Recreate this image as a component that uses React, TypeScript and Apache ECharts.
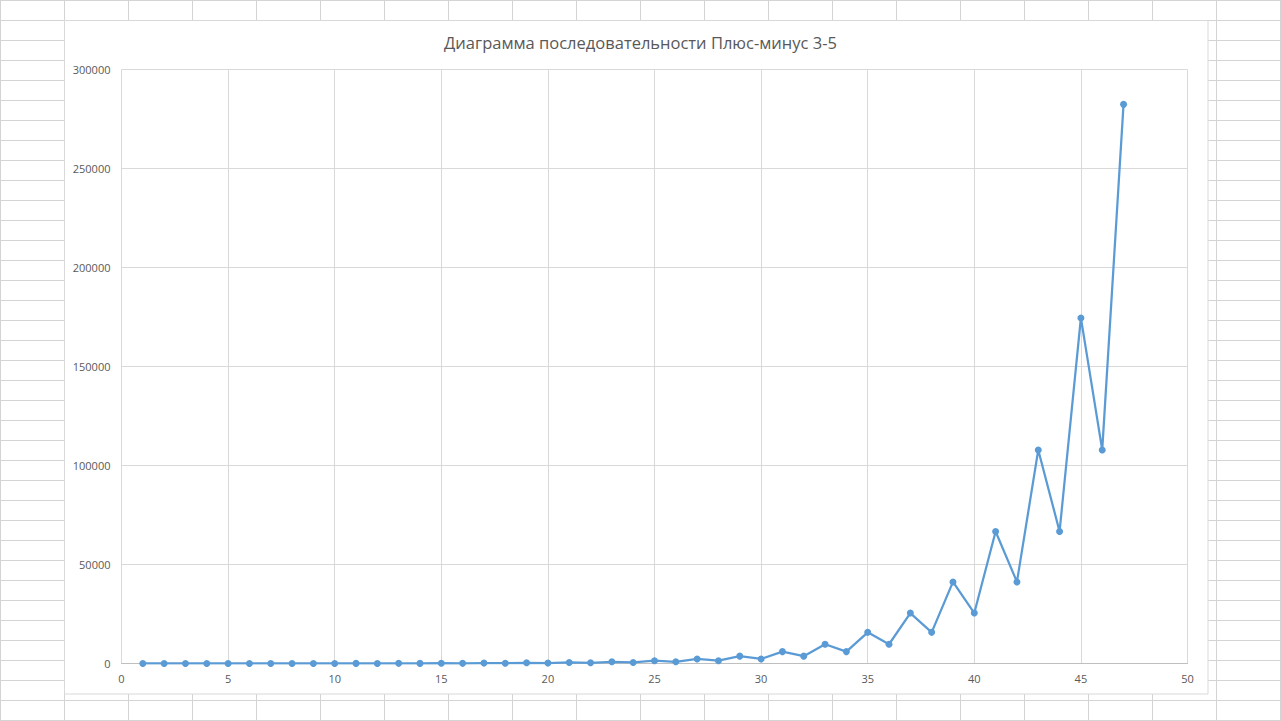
import React, { useEffect, useRef } from "react";
import * as echarts from "echarts";

// Sequence terms n = 1..47
const termIndex: number[] = [
  1, 2, 3, 4, 5, 6, 7, 8, 9, 10, 11, 12, 13, 14, 15, 16, 17, 18, 19, 20, 21, 22, 23, 24,
  25, 26, 27, 28, 29, 30, 31, 32, 33, 34, 35, 36, 37, 38, 39, 40, 41, 42, 43, 44, 45, 46, 47,
];
const termValue: number[] = [
  3, 5, 8, 3, 11, 8, 19, 11, 30, 19, 49, 30, 79, 49, 128, 79, 207, 128, 335, 207, 542, 335,
  877, 542, 1419, 877, 2296, 1419, 3715, 2296, 6011, 3715, 9726, 6011, 15737, 9726, 25463,
  15737, 41200, 25463, 66663, 41200, 107863, 66663, 174526, 107863, 282389,
];

const chartTitle = "Диаграмма последовательности Плюс-минус 3-5";
const xTicks = { min: 0, max: 50, step: 5 };
const yTicks = { min: 0, max: 300000, step: 50000 };

const W = 1281;
const H = 721;

export default function App() {
  const ref = useRef<HTMLDivElement>(null);

  useEffect(() => {
    if (!ref.current) return;
    const chart = echarts.init(ref.current, undefined, { renderer: "svg" });

    // worksheet cell lines behind the chart object
    const sheet: any[] = [];
    for (let x = 0; x <= W; x += 64) {
      sheet.push({
        type: "line",
        silent: true,
        z: -10,
        shape: { x1: x + 0.5, y1: 0, x2: x + 0.5, y2: H },
        style: { stroke: "#d4d4d4", lineWidth: 1 },
      });
    }
    for (let y = 0; y <= H; y += 20) {
      sheet.push({
        type: "line",
        silent: true,
        z: -10,
        shape: { x1: 0, y1: y + 0.5, x2: W, y2: y + 0.5 },
        style: { stroke: "#d4d4d4", lineWidth: 1 },
      });
    }
    sheet.push({
      type: "rect",
      silent: true,
      z: -5,
      shape: { x: 64.5, y: 20.5, width: 1143.5, height: 673.5 },
      style: { fill: "#ffffff", stroke: "#d9d9d9", lineWidth: 1 },
    });

    chart.setOption({
      animation: false,
      backgroundColor: "#ffffff",
      graphic: { elements: sheet },
      title: {
        text: chartTitle,
        left: "center",
        top: 29,
        textStyle: {
          fontFamily: "Open Sans",
          fontSize: 16.5,
          fontWeight: "normal",
          color: "#595959",
        },
      },
      grid: {
        left: 121.5,
        top: 69.5,
        width: 1066,
        height: 594,
        containLabel: false,
      },
      xAxis: {
        type: "value",
        min: xTicks.min,
        max: xTicks.max,
        interval: xTicks.step,
        axisLine: { show: true, lineStyle: { color: "#bfbfbf", width: 1 } },
        axisTick: { show: false },
        axisLabel: {
          color: "#595959",
          fontFamily: "Open Sans",
          fontSize: 11,
          margin: 9,
          formatter: (v: number) => String(v),
        },
        splitLine: { show: true, lineStyle: { color: "#d9d9d9", width: 1 } },
      },
      yAxis: {
        type: "value",
        min: yTicks.min,
        max: yTicks.max,
        interval: yTicks.step,
        axisLine: { show: false },
        axisTick: { show: false },
        axisLabel: {
          color: "#595959",
          fontFamily: "Open Sans",
          fontSize: 11,
          margin: 11,
          formatter: (v: number) => String(v),
        },
        splitLine: { show: true, lineStyle: { color: "#d9d9d9", width: 1 } },
      },
      series: [
        {
          type: "line",
          data: termIndex.map((n, i) => [n, termValue[i]]),
          symbol: "circle",
          symbolSize: 7,
          z: 5,
          lineStyle: { color: "#5b9bd5", width: 2.25 },
          itemStyle: { color: "#5b9bd5" },
        },
      ],
    });

    return () => chart.dispose();
  }, []);

  return (
    <div
      ref={ref}
      style={{ position: "absolute", left: 0, top: 0, width: W, height: H }}
    />
  );
}
